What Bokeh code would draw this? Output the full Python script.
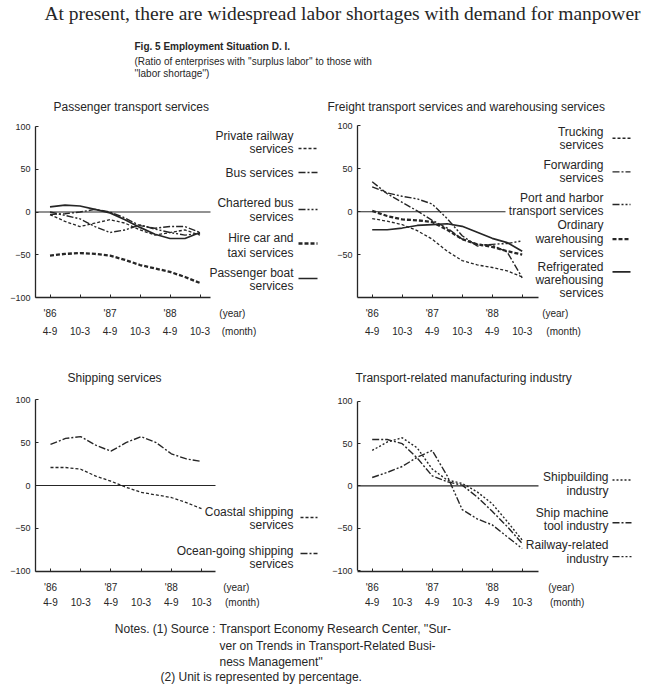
from bokeh.plotting import figure
from bokeh.models import Range1d, LinearAxis, FixedTicker, Label
from bokeh.layouts import column, row
from bokeh.embed import file_html
from bokeh.resources import INLINE

# ---------------- data ----------------
x_read = [0, 0.5, 1, 1.5, 2, 2.5, 3, 3.5, 4, 4.5, 5]
tick_pos = [0, 1, 2, 3, 4, 5]
year_labels = ["'86", "", "'87", "", "'88", ""]
month_labels = ["4-9", "10-3", "4-9", "10-3", "4-9", "10-3"]
y_ticks = [-100, -50, 0, 50, 100]
y_tick_labels = ["\u2212100", "\u221250", "0", "50", "100"]

# Passenger transport services
private_railway = [-3, -11, -17, -13, -9, -13, -21, -27, -24, -21, -27]
bus = [-3, -2, 0, 3, 0, -7, -16, -19, -17, -17, -24]
chartered_bus = [0, -4, -8, -17, -24, -21, -15, -20, -24, -27, -25]
hire_car_taxi = [-51, -49, -48, -49, -51, -56, -62, -66, -70, -76, -83]
passenger_boat = [6, 8, 7, 3, -1, -9, -18, -26, -31, -31, -24]

# Freight transport services and warehousing services
trucking = [-8, -11, -15, -22, -32, -46, -57, -62, -65, -69, -76]
forwarding = [35, 21, 11, 1, -10, -19, -32, -38, -39, -47, -77]
port_harbor = [29, 22, 18, 15, 9, -8, -28, -40, -38, -37, -34]
ordinary_wh = [1, -5, -9, -10, -12, -21, -32, -38, -41, -46, -50]
refrigerated_wh = [-21, -21, -19, -16, -15, -14, -17, -24, -31, -36, -46]

# Shipping services
coastal = [21, 21, 19, 11, 5, -2, -8, -11, -14, -20, -27]
ocean_going = [48, 55, 57, 47, 40, 50, 57, 50, 37, 31, 28]

# Transport-related manufacturing industry
shipbuilding = [42, 52, 57, 45, 20, 7, 3, -7, -21, -42, -64]
ship_machine_tool = [55, 55, 50, 33, 12, 5, 1, -13, -30, -48, -68]
railway_related = [10, 16, 23, 34, 42, 12, -28, -39, -46, -60, -74]

# ---------------- styles ----------------
INK = "#262626"
FONT = "Liberation Sans"
STYLES = {
    "fine": dict(line_dash="3 2", line_width=1.3),
    "dot": dict(line_dash="2 2", line_width=1.4),
    "dashdot": dict(line_dash="7 2 2 2", line_width=1.4),
    "dashdotdot": dict(line_dash="7 2 2 2 2 2", line_width=1.4),
    "heavy": dict(line_dash="4 2", line_width=2.3),
    "solid": dict(line_dash="solid", line_width=1.7),
}


def add_label(p, x, y, text, size="12px", align="left", bold=False, font=FONT, px=True):
    kw = dict(x=x, y=y, text=text, text_align=align, text_baseline="middle",
              text_font=font, text_font_size=size, text_color=INK,
              text_font_style="bold" if bold else "normal")
    if px:
        kw.update(x_range_name="px", y_range_name="py")
    p.add_layout(Label(**kw))


def style_axis(ax, size):
    ax.major_label_text_font = FONT
    ax.major_label_text_font_size = size
    ax.major_label_text_color = INK
    ax.minor_tick_line_color = None


def panel(canvas, frame, x0px, sx, y0px, sy, axis_end_px, zero_end_px,
          title, title_x, series, legend, legend_right, sample_span, unit_ticks,
          month_standoff):
    cl, ct, cr, cb = canvas
    fl, ft, fr, fb = frame
    xs = (fl - x0px) / sx
    xe = (fr - x0px) / sx
    ys = (y0px - fb) / sy
    ye = (y0px - ft) / sy
    p = figure(width=cr - cl, height=cb - ct,
               x_range=Range1d(xs, xe), y_range=Range1d(ys, ye),
               output_backend="svg", toolbar_location=None,
               min_border_left=fl - cl, min_border_right=cr - fr,
               min_border_top=ft - ct, min_border_bottom=cb - fb,
               outline_line_color=None, background_fill_color="white",
               border_fill_color="white", title=title)
    p.title.align = "left"
    p.title.offset = title_x - fl
    p.title.standoff = 4
    p.title.text_font = FONT
    p.title.text_font_size = "12px"
    p.title.text_font_style = "normal"
    p.title.text_color = INK
    p.grid.visible = False
    p.extra_x_ranges = {"px": Range1d(fl, fr)}
    p.extra_y_ranges = {"py": Range1d(fb, ft)}
    axis_end = (axis_end_px - x0px) / sx

    # axis line with inward ticks
    ax = p.xaxis[0]
    ax.ticker = FixedTicker(ticks=tick_pos)
    ax.bounds = (xs, axis_end)
    ax.major_label_overrides = {t: "" for t in tick_pos}
    ax.major_tick_in = 3
    ax.major_tick_out = 0
    ax.major_label_standoff = 0
    ax.axis_line_color = INK
    ax.axis_line_width = 1.3
    ax.major_tick_line_color = INK
    style_axis(ax, "1px")

    uy, um = unit_ticks
    # year labels
    ya = LinearAxis(ticker=FixedTicker(ticks=tick_pos + [uy]),
                    major_label_overrides={**{t: l for t, l in zip(tick_pos, year_labels)}, uy: "(year)"},
                    axis_line_color=None, major_tick_line_color=None,
                    major_label_standoff=4)
    style_axis(ya, "10px")
    p.add_layout(ya, "below")
    # month labels
    ma = LinearAxis(ticker=FixedTicker(ticks=tick_pos + [um]),
                    major_label_overrides={**{t: l for t, l in zip(tick_pos, month_labels)}, um: "(month)"},
                    axis_line_color=None, major_tick_line_color=None,
                    major_label_standoff=month_standoff)
    style_axis(ma, "10px")
    p.add_layout(ma, "below")

    ay = p.yaxis[0]
    ay.ticker = FixedTicker(ticks=y_ticks)
    ay.bounds = (-100, 100)
    ay.major_label_overrides = {t: l for t, l in zip(y_ticks, y_tick_labels)}
    ay.major_tick_in = 3
    ay.major_tick_out = 0
    ay.major_label_standoff = 5
    ay.axis_line_color = INK
    ay.axis_line_width = 1.3
    ay.major_tick_line_color = INK
    style_axis(ay, "9px")

    zero_end = (zero_end_px - x0px) / sx
    p.line([xs, zero_end], [0, 0], color=INK, line_width=1.2)

    for vals, style in series:
        p.line(x_read, vals, color=INK, **STYLES[style])

    for lines, sample_y, style in legend:
        for txt, ty in lines:
            add_label(p, legend_right, ty, txt, align="right")
        p.line(list(sample_span), [sample_y, sample_y], x_range_name="px",
               y_range_name="py", color=INK, **STYLES[style])
    return p


p1 = panel(canvas=(0, 92, 325, 342), frame=(35, 115, 325, 297),
           x0px=49.5, sx=30.0, y0px=211.5, sy=0.855,
           axis_end_px=210, zero_end_px=210,
           title="Passenger transport services", title_x=53,
           series=[(private_railway, "fine"), (bus, "dashdot"),
                   (chartered_bus, "dashdotdot"), (hire_car_taxi, "heavy"),
                   (passenger_boat, "solid")],
           legend=[([("Private railway", 135), ("services", 148)], 148, "fine"),
                   ([("Bus services", 172)], 172, "dashdot"),
                   ([("Chartered bus", 202), ("services", 216)], 209, "dashdotdot"),
                   ([("Hire car and", 237), ("taxi services", 252)], 243, "heavy"),
                   ([("Passenger boat", 272), ("services", 285)], 278, "solid")],
           legend_right=293, sample_span=(298, 317),
           unit_ticks=(6.08, 6.3), month_standoff=-2)

p2 = panel(canvas=(325, 92, 646, 342), frame=(357, 115, 646, 299),
           x0px=371.7, sx=30.0, y0px=212.3, sy=0.867,
           axis_end_px=538, zero_end_px=505,
           title="Freight transport services and warehousing services", title_x=327,
           series=[(trucking, "fine"), (forwarding, "dashdot"),
                   (port_harbor, "dashdotdot"), (ordinary_wh, "heavy"),
                   (refrigerated_wh, "solid")],
           legend=[([("Trucking", 132), ("services", 145)], 138, "fine"),
                   ([("Forwarding", 165), ("services", 178)], 172, "dashdot"),
                   ([("Port and harbor", 198), ("transport services", 212)], 205, "dashdotdot"),
                   ([("Ordinary", 226), ("warehousing", 240), ("services", 254)], 240, "heavy"),
                   ([("Refrigerated", 268), ("warehousing", 281), ("services", 294)], 273, "solid")],
           legend_right=603, sample_span=(612, 630),
           unit_ticks=(6.1, 6.38), month_standoff=-2)

p3 = panel(canvas=(0, 342, 325, 615), frame=(35, 386, 325, 571),
           x0px=50.0, sx=30.2, y0px=485.0, sy=0.857,
           axis_end_px=215, zero_end_px=215,
           title="Shipping services", title_x=67,
           series=[(coastal, "fine"), (ocean_going, "dashdot")],
           legend=[([("Coastal shipping", 511), ("services", 524)], 517, "fine"),
                   ([("Ocean-going shipping", 550), ("services", 563)], 553, "dashdot")],
           legend_right=293, sample_span=(300, 317),
           unit_ticks=(6.15, 6.35), month_standoff=-5)

p4 = panel(canvas=(325, 342, 646, 615), frame=(357, 386, 646, 572),
           x0px=371.7, sx=30.0, y0px=486.0, sy=0.85,
           axis_end_px=538, zero_end_px=538,
           title="Transport-related manufacturing industry", title_x=355,
           series=[(shipbuilding, "dot"), (ship_machine_tool, "dashdot"),
                   (railway_related, "dashdotdot")],
           legend=[([("Shipbuilding", 477), ("industry", 491)], 480, "dot"),
                   ([("Ship machine", 513), ("tool industry", 526)], 523, "dashdot"),
                   ([("Railway-related", 545), ("industry", 559)], 557, "dashdotdot")],
           legend_right=608, sample_span=(612, 631),
           unit_ticks=(6.3, 6.5), month_standoff=-5)


def text_canvas(x0, y0, x1, y1):
    p = figure(width=x1 - x0, height=y1 - y0, x_range=Range1d(x0, x1),
               y_range=Range1d(y1, y0), output_backend="svg",
               toolbar_location=None, min_border=0, outline_line_color=None,
               x_axis_location=None, y_axis_location=None,
               background_fill_color="white", border_fill_color="white")
    p.grid.visible = False
    return p


head = text_canvas(0, 0, 646, 92)
add_label(head, 342, 13, "At present, there are widespread labor shortages with demand for manpower",
          size="19.5px", align="center", font="Liberation Serif", px=False)
add_label(head, 134, 46, "Fig. 5 Employment Situation D. I.", size="10px", bold=True, px=False)
add_label(head, 134, 61, "(Ratio of enterprises with ''surplus labor'' to those with",
          size="10px", px=False)
add_label(head, 134, 73, "''labor shortage'')", size="10px", px=False)

notes = text_canvas(0, 615, 646, 688)
add_label(notes, 215, 628, "Notes. (1) Source :", size="12px", align="right", px=False)
add_label(notes, 219, 628, "Transport Economy Research Center, ''Sur-", size="12px", px=False)
add_label(notes, 219, 645, "ver on Trends in Transport-Related Busi-", size="12px", px=False)
add_label(notes, 219, 661, "ness Management''", size="12px", px=False)
add_label(notes, 160, 676, "(2) Unit is represented by percentage.", size="12px", px=False)

layout = column(head, row(p1, p2), row(p3, p4), notes)
open("out.html", "w").write(file_html(layout, INLINE))
